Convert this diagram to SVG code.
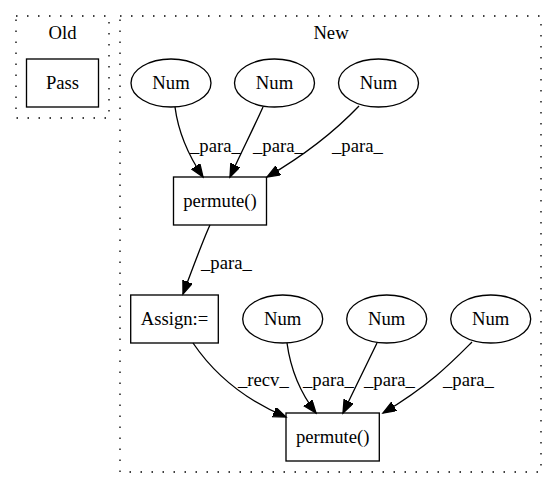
<svg xmlns="http://www.w3.org/2000/svg" width="557" height="488" viewBox="0 0 557 488">
<style>
  .cl { fill: none; stroke: #000; stroke-width: 1.33; stroke-dasharray: 1.5 9.5; }
  .nd { fill: none; stroke: #000; stroke-width: 1.33; }
  .ed { fill: none; stroke: #000; stroke-width: 1.33; }
  text { font-family: 'Liberation Serif', 'Times New Roman', Times, serif; font-size: 18.67px; fill: #000; }
  .c { text-anchor: middle; }
</style>
<defs>
  <marker id="ah" markerUnits="userSpaceOnUse" markerWidth="15" markerHeight="12" refX="13" refY="5" orient="auto">
    <path d="M0,0 L13,5 L0,10 z" fill="#000" stroke="#000" stroke-width="1.33"/>
  </marker>
</defs>
<rect width="557" height="488" fill="#fff"/>
<g font-family="Liberation Serif, Times New Roman, serif">
<g id="cluster_old">
  <rect class="cl" x="16" y="16" width="93" height="102"/>
  <text class="c" x="62.5" y="39">Old</text>
</g>
<g id="cluster_new">
  <rect class="cl" x="120" y="16" width="421" height="456"/>
  <text class="c" x="331" y="39">New</text>
</g>
<g id="pass">
  <rect class="nd" x="26.5" y="59" width="72" height="48"/>
  <text class="c" x="62.5" y="89">Pass</text>
</g>
<g id="num1">
  <ellipse class="nd" cx="171" cy="83" rx="40" ry="24"/>
  <text class="c" x="171" y="89">Num</text>
</g>
<g id="num2">
  <ellipse class="nd" cx="274.5" cy="83" rx="40" ry="24"/>
  <text class="c" x="274.5" y="89">Num</text>
</g>
<g id="num3">
  <ellipse class="nd" cx="378.5" cy="83" rx="40" ry="24"/>
  <text class="c" x="378.5" y="89">Num</text>
</g>
<g id="permute1">
  <rect class="nd" x="173.5" y="177" width="93" height="48"/>
  <text class="c" x="220" y="207">permute()</text>
</g>
<g id="assign">
  <rect class="nd" x="130.7" y="295" width="87.6" height="48"/>
  <text class="c" x="174.5" y="325">Assign:=</text>
</g>
<g id="num4">
  <ellipse class="nd" cx="282.7" cy="319" rx="40" ry="24"/>
  <text class="c" x="282.7" y="325">Num</text>
</g>
<g id="num5">
  <ellipse class="nd" cx="386.7" cy="319" rx="40" ry="24"/>
  <text class="c" x="386.7" y="325">Num</text>
</g>
<g id="num6">
  <ellipse class="nd" cx="490.7" cy="319" rx="40" ry="24"/>
  <text class="c" x="490.7" y="325">Num</text>
</g>
<g id="permute2">
  <rect class="nd" x="286" y="413" width="93.3" height="48"/>
  <text class="c" x="332.7" y="443">permute()</text>
</g>
<g id="connectors">
  <path class="ed" marker-end="url(#ah)" d="M175,107 C178,130 186,152 203,177"/>
  <text x="190" y="152">_para_</text>
  <path class="ed" marker-end="url(#ah)" d="M263,107 C255,125 240,155 230,177"/>
  <text x="253" y="152">_para_</text>
  <path class="ed" marker-end="url(#ah)" d="M359,106 C338,128 310,152 267,177"/>
  <text x="332" y="152">_para_</text>
  <path class="ed" marker-end="url(#ah)" d="M210,225 C203,240 192,270 183,294"/>
  <text x="201" y="269">_para_</text>
  <path class="ed" marker-end="url(#ah)" d="M193,343 C210,368 238,397 286,417"/>
  <text x="238" y="386">_recv_</text>
  <path class="ed" marker-end="url(#ah)" d="M287,343 C290,365 298,390 316,413"/>
  <text x="303" y="386">_para_</text>
  <path class="ed" marker-end="url(#ah)" d="M377,343 C368,362 354,390 343,413"/>
  <text x="364" y="386">_para_</text>
  <path class="ed" marker-end="url(#ah)" d="M472,342 C452,362 430,385 383,413"/>
  <text x="443" y="386">_para_</text>
</g>
</g>
</svg>
